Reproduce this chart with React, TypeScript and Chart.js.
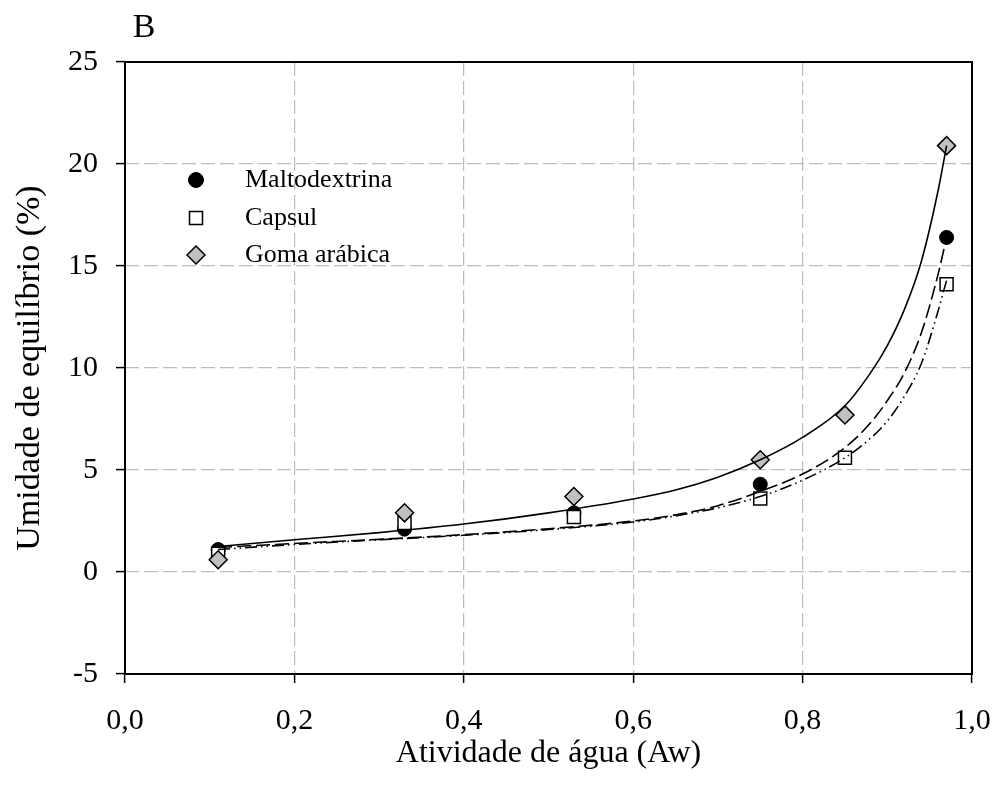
import React, { useEffect, useRef } from 'react';
import { Chart, registerables } from 'chart.js';

Chart.register(...registerables);

// Measured sorption points (water activity vs equilibrium moisture, %)
const waterActivity = [0.11, 0.33, 0.53, 0.75, 0.85, 0.97];
const maltodextrinaValues: (number | null)[] = [1.1, 2.1, 2.9, 4.3, null, 16.4];
const capsulValues = [0.9, 2.4, 2.7, 3.6, 5.6, 14.1];
const gomaArabicaValues = [0.6, 2.9, 3.7, 5.5, 7.7, 20.9];

// Fitted isotherm curves, sampled along water activity
const fitWaterActivity = [0.11, 0.2, 0.3, 0.4, 0.5, 0.6, 0.65, 0.7, 0.75, 0.8, 0.85, 0.88, 0.9, 0.92, 0.94, 0.96, 0.97];
const maltodextrinaFit = [1.2, 1.4, 1.6, 1.83, 2.12, 2.5, 2.8, 3.25, 3.95, 4.8, 6.1, 7.3, 8.4, 9.75, 11.7, 14.6, 16.4];
const capsulFit = [1.1, 1.35, 1.58, 1.8, 2.08, 2.45, 2.75, 3.15, 3.7, 4.5, 5.6, 6.55, 7.4, 8.6, 10.2, 12.8, 14.3];
const gomaArabicaFit = [1.25, 1.58, 1.93, 2.35, 2.9, 3.58, 4.02, 4.65, 5.5, 6.6, 8.15, 9.75, 11.1, 12.85, 15.2, 18.7, 20.9];

// Axis ticks
const xTicks = [0, 0.2, 0.4, 0.6, 0.8, 1.0];
const xTickLabels = ['0,0', '0,2', '0,4', '0,6', '0,8', '1,0'];
const yTicks = [-5, 0, 5, 10, 15, 20, 25];
const yTickLabels = ['-5', '0', '5', '10', '15', '20', '25'];

const seriesNames = ['Maltodextrina', 'Capsul', 'Goma arábica'];
const panelLabel = 'B';
const xTitle = 'Atividade de água (Aw)';
const yTitle = 'Umidade de equilíbrio (%)';

const SERIF = "'Liberation Serif', 'Times New Roman', serif";

const toPoints = (xs: number[], ys: (number | null)[]) =>
  xs
    .map((x, i) => ({ x, y: ys[i] }))
    .filter((p) => p.y !== null) as { x: number; y: number }[];

const markerStyles = [
  { pointStyle: 'circle', radius: 7, fill: '#000000', stroke: '#000000', width: 1 },
  { pointStyle: 'rect', radius: 9.2, fill: '#ffffff', stroke: '#000000', width: 1.5 },
  { pointStyle: 'rectRot', radius: 9, fill: '#c0c0c0', stroke: '#000000', width: 1.5 },
];

function drawMarker(ctx: CanvasRenderingContext2D, style: string, r: number, x: number, y: number) {
  ctx.beginPath();
  if (style === 'circle') {
    ctx.arc(x, y, r, 0, Math.PI * 2);
  } else if (style === 'rect') {
    const s = Math.SQRT1_2 * r;
    ctx.rect(x - s, y - s, 2 * s, 2 * s);
  } else {
    ctx.moveTo(x - r, y);
    ctx.lineTo(x, y - r);
    ctx.lineTo(x + r, y);
    ctx.lineTo(x, y + r);
  }
  ctx.closePath();
}

// Black frame around the plotting area
const framePlugin = {
  id: 'frame',
  beforeDatasetsDraw(chart: any) {
    const { ctx, chartArea } = chart;
    ctx.save();
    ctx.strokeStyle = '#000';
    ctx.lineWidth = 2;
    ctx.strokeRect(chartArea.left, chartArea.top, chartArea.right - chartArea.left, chartArea.bottom - chartArea.top);
    ctx.restore();
  },
};

// Legend inside the plot and the panel letter
const annotationsPlugin = {
  id: 'annotations',
  afterDraw(chart: any) {
    const { ctx, chartArea } = chart;
    ctx.save();
    const rows = [118, 156, 193];
    seriesNames.forEach((name, i) => {
      const m = markerStyles[i];
      const y = chartArea.top + rows[i];
      drawMarker(ctx, m.pointStyle, m.pointStyle === 'circle' ? 7.5 : m.radius, chartArea.left + 71, y);
      ctx.fillStyle = m.fill;
      ctx.fill();
      ctx.lineWidth = m.width;
      ctx.strokeStyle = m.stroke;
      ctx.stroke();
      ctx.fillStyle = '#000';
      ctx.font = `26px ${SERIF}`;
      ctx.textAlign = 'left';
      ctx.textBaseline = 'middle';
      ctx.fillText(name, chartArea.left + 120, y);
    });
    ctx.font = `34px ${SERIF}`;
    ctx.textAlign = 'center';
    ctx.textBaseline = 'middle';
    ctx.fillStyle = '#000';
    ctx.fillText(panelLabel, 144, 28);
    ctx.restore();
  },
};

export default function App() {
  const canvasRef = useRef<HTMLCanvasElement>(null);

  useEffect(() => {
    const canvas = canvasRef.current;
    if (!canvas) return;

    const pointSets = [maltodextrinaValues, capsulValues, gomaArabicaValues];
    const fitSets = [maltodextrinaFit, capsulFit, gomaArabicaFit];
    const fitDashes = [[14, 5], [12, 4, 1.5, 4, 1.5, 4], []];

    const datasets: any[] = [];
    fitSets.forEach((fit, i) => {
      datasets.push({
        label: seriesNames[i] + ' (ajuste)',
        data: toPoints(fitWaterActivity, fit),
        borderColor: '#000',
        borderWidth: 1.6,
        borderDash: fitDashes[i],
        pointRadius: 0,
        fill: false,
        cubicInterpolationMode: 'monotone',
        order: 0,
      });
    });
    pointSets.forEach((vals, i) => {
      const m = markerStyles[i];
      datasets.push({
        label: seriesNames[i],
        data: toPoints(waterActivity, vals),
        showLine: false,
        pointStyle: m.pointStyle,
        pointRadius: m.radius,
        pointBackgroundColor: m.fill,
        pointBorderColor: m.stroke,
        pointBorderWidth: m.width,
        order: 3 - i,
      });
    });

    const gridCommon = {
      color: '#bdbdbd',
      lineWidth: 1.2,
      drawTicks: true,
      tickLength: 9,
      tickColor: '#000',
      tickWidth: 1.5,
      tickBorderDash: [],
    };

    const chart = new Chart(canvas, {
      type: 'line',
      data: { datasets },
      options: {
        animation: false,
        responsive: false,
        devicePixelRatio: 1,
        layout: { padding: { top: 62, right: 30, left: 0, bottom: 0 } },
        plugins: {
          legend: { display: false },
          tooltip: { enabled: false },
        },
        scales: {
          x: {
            type: 'linear',
            min: 0,
            max: 1,
            afterBuildTicks: (scale: any) => {
              scale.ticks = xTicks.map((v) => ({ value: v }));
            },
            afterFit: (scale: any) => {
              scale.height = 126;
              scale.paddingLeft = 0;
              scale.paddingRight = 0;
            },
            ticks: {
              color: '#000',
              font: { family: SERIF, size: 30 },
              padding: 20,
              maxRotation: 0,
              callback: (_v: any, index: number) => xTickLabels[index],
            },
            grid: gridCommon,
            border: { display: false, dash: [14, 5] },
            title: {
              display: true,
              text: xTitle,
              color: '#000',
              font: { family: SERIF, size: 32 },
              padding: { top: 0, bottom: 27 },
            },
          },
          y: {
            type: 'linear',
            min: -5,
            max: 25,
            afterBuildTicks: (scale: any) => {
              scale.ticks = yTicks.map((v) => ({ value: v }));
            },
            afterFit: (scale: any) => {
              scale.width = 125;
              scale.paddingTop = 0;
              scale.paddingBottom = 0;
            },
            ticks: {
              color: '#000',
              font: { family: SERIF, size: 30 },
              padding: 18,
              callback: (_v: any, index: number) => yTickLabels[index],
            },
            grid: gridCommon,
            border: { display: false, dash: [14, 5] },
            title: {
              display: true,
              text: yTitle,
              color: '#000',
              font: { family: SERIF, size: 34 },
              padding: { top: 10, bottom: 0 },
            },
          },
        },
      } as any,
      plugins: [framePlugin, annotationsPlugin],
    });

    return () => chart.destroy();
  }, []);

  return (
    <div style={{ position: 'fixed', left: 0, top: 0, width: 1002, height: 800, background: '#fff' }}>
      <canvas ref={canvasRef} width={1002} height={800} style={{ display: 'block' }} />
    </div>
  );
}
